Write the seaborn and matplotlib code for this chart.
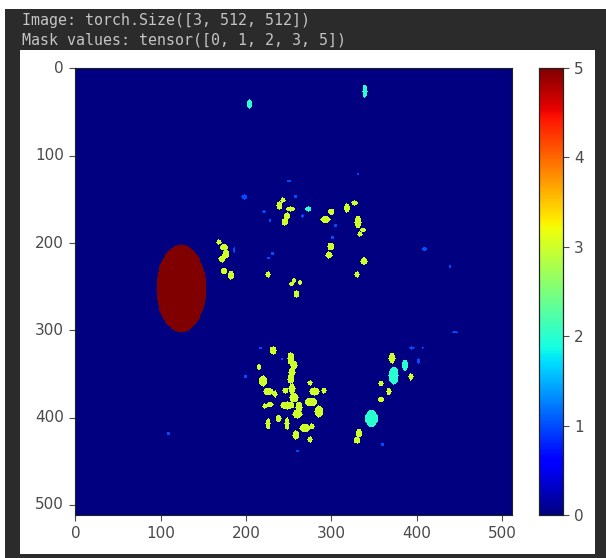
import numpy as np
import matplotlib
matplotlib.use('Agg')
import matplotlib.pyplot as plt
import seaborn as sns

size = 512
ticks = [0, 100, 200, 300, 400, 500]
cbar_ticks = [0, 1, 2, 3, 4, 5]
header = ['Image: torch.Size([3, 512, 512])', 'Mask values: tensor([0, 1, 2, 3, 5])']

# blobs, image coordinates (x, y, half width, half height)
class5 = [(124, 252, 29, 50)]
class2 = [(339, 26, 3, 7), (204, 41, 2.5, 5), (373, 352, 6, 10), (347, 401, 7.5, 9.5),
          (386, 340, 3.5, 6.5), (273, 161, 4, 3)]
class1 = [(198, 147, 3, 3), (250, 129, 3, 1.5), (394, 320, 3, 2), (445, 302, 3, 1.5),
          (409, 207, 2.5, 2.5), (439, 227, 1.5, 1.5), (109, 418, 1.5, 1.5), (186, 208, 2, 3),
          (266, 169, 1.5, 2), (221, 164, 2, 2), (228, 174, 1.5, 2.5), (217, 320, 1.5, 1.5),
          (199, 353, 1.5, 1.5), (242, 333, 1.5, 1.5), (260, 438, 1.5, 1.5), (360, 431, 1.5, 1.5),
          (402, 335, 1.5, 3), (407, 320, 1, 1.5), (331, 121, 1.5, 1.5), (231, 212, 1.5, 1.5),
          (226, 217, 1.5, 1.5), (305, 180, 1.5, 1.5), (301, 194, 1.5, 1.5), (258, 147, 1.5, 1.5)]
class3 = [(232, 323, 3, 4), (252, 332, 3, 6), (256, 340, 3, 4), (254, 348, 3, 4), (252, 356, 3, 4),
          (220, 358, 4, 5), (226, 370, 5, 3), (215, 342, 2, 3), (254, 367, 3, 5), (256, 377, 4, 5),
          (248, 386, 7, 4), (262, 388, 3, 6), (260, 396, 5, 4), (276, 382, 6, 4), (280, 370, 5, 4),
          (285, 393, 4, 6), (269, 412, 5, 4), (258, 420, 3, 4), (248, 407, 2, 6), (226, 407, 2, 5),
          (238, 401, 2, 3), (228, 385, 3, 2), (222, 387, 2, 2), (234, 373, 2, 3), (246, 369, 2, 2),
          (275, 360, 2, 2), (291, 369, 2, 2), (277, 410, 2, 2), (275, 425, 2, 2), (332, 418, 2.5, 4),
          (330, 426, 2.5, 3), (371, 332, 3, 5), (358, 361, 2, 2), (367, 370, 2, 2.5), (358, 379, 2.5, 2),
          (393, 353, 2, 3), (239, 157, 2, 4), (252, 161, 5, 2), (248, 169, 3, 3), (245, 176, 2.5, 3),
          (243, 151, 2, 2), (293, 173, 5, 2.5), (300, 164, 2.5, 2.5), (318, 160, 2.5, 4), (327, 154, 3, 2),
          (331, 176, 3, 6), (337, 185, 2.5, 2), (333, 190, 2, 2), (299, 204, 3, 3), (297, 214, 3, 3),
          (338, 221, 3, 3.5), (330, 236, 2, 2), (226, 236, 2, 2), (259, 258, 2.5, 3), (256, 243, 1.5, 1.5),
          (263, 245, 1.5, 1.5), (253, 247, 1.5, 1.5), (174, 205, 3.5, 3), (176, 213, 3, 4), (172, 218, 3, 3),
          (174, 232, 2.5, 3), (182, 237, 2.5, 4), (168, 199, 2, 2)]

# build the mask from the blobs, class 3 specks come out a bit fatter in the reference
mask = np.zeros((size, size))
yy, xx = np.mgrid[0:size, 0:size]
for value, blobs, grow in [(1, class1, 0), (2, class2, 0), (3, class3, 1), (5, class5, 0)]:
    for x, y, rx, ry in blobs:
        mask[((xx - x) / (rx + grow)) ** 2 + ((yy - y) / (ry + grow)) ** 2 <= 1] = value

fig = plt.figure(figsize=(6.06, 5.58), dpi=100, facecolor='#2b2b2b')
W, H = 606, 558

def box(l, t, r, b):
    return [l / W, 1 - b / H, (r - l) / W, (b - t) / H]

# white strip round the screenshot, then the notebook output cell
for rect, col in [(box(0, 0, 606, 9), 'white'), (box(0, 0, 5, 558), 'white'),
                  (box(20, 50, 595, 554), 'white')]:
    fig.add_artist(plt.Rectangle(rect[:2], rect[2], rect[3], transform=fig.transFigure,
                                 facecolor=col, edgecolor='none', zorder=-1))

ax = fig.add_axes(box(75, 68, 512, 515))
cax = fig.add_axes(box(539, 68, 563, 515))
sns.heatmap(mask, cmap='jet', vmin=0, vmax=5, ax=ax, cbar_ax=cax, square=False, rasterized=True,
            cbar_kws={'ticks': cbar_ticks})

ax.set_xticks([t + 0.5 for t in ticks])
ax.set_xticklabels(ticks, rotation=0)
ax.set_yticks([t + 0.5 for t in ticks])
ax.set_yticklabels(ticks, rotation=0)
ax.tick_params(labelsize=11, colors='#4a4a4a', length=4, pad=4)
cax.tick_params(labelsize=11, colors='#4a4a4a', length=4, pad=4)
for a in (ax, cax):
    for s in a.spines.values():
        s.set_visible(True)
        s.set_color('#222222')
        s.set_linewidth(0.8)

fig.text(22 / W, 1 - 20 / H, header[0], family='DejaVu Sans Mono', fontsize=10.8, color='#c4c4c4', va='center')
fig.text(22 / W, 1 - 40 / H, header[1], family='DejaVu Sans Mono', fontsize=10.8, color='#c4c4c4', va='center')

fig.savefig('out.png', dpi=100, facecolor=fig.get_facecolor())
